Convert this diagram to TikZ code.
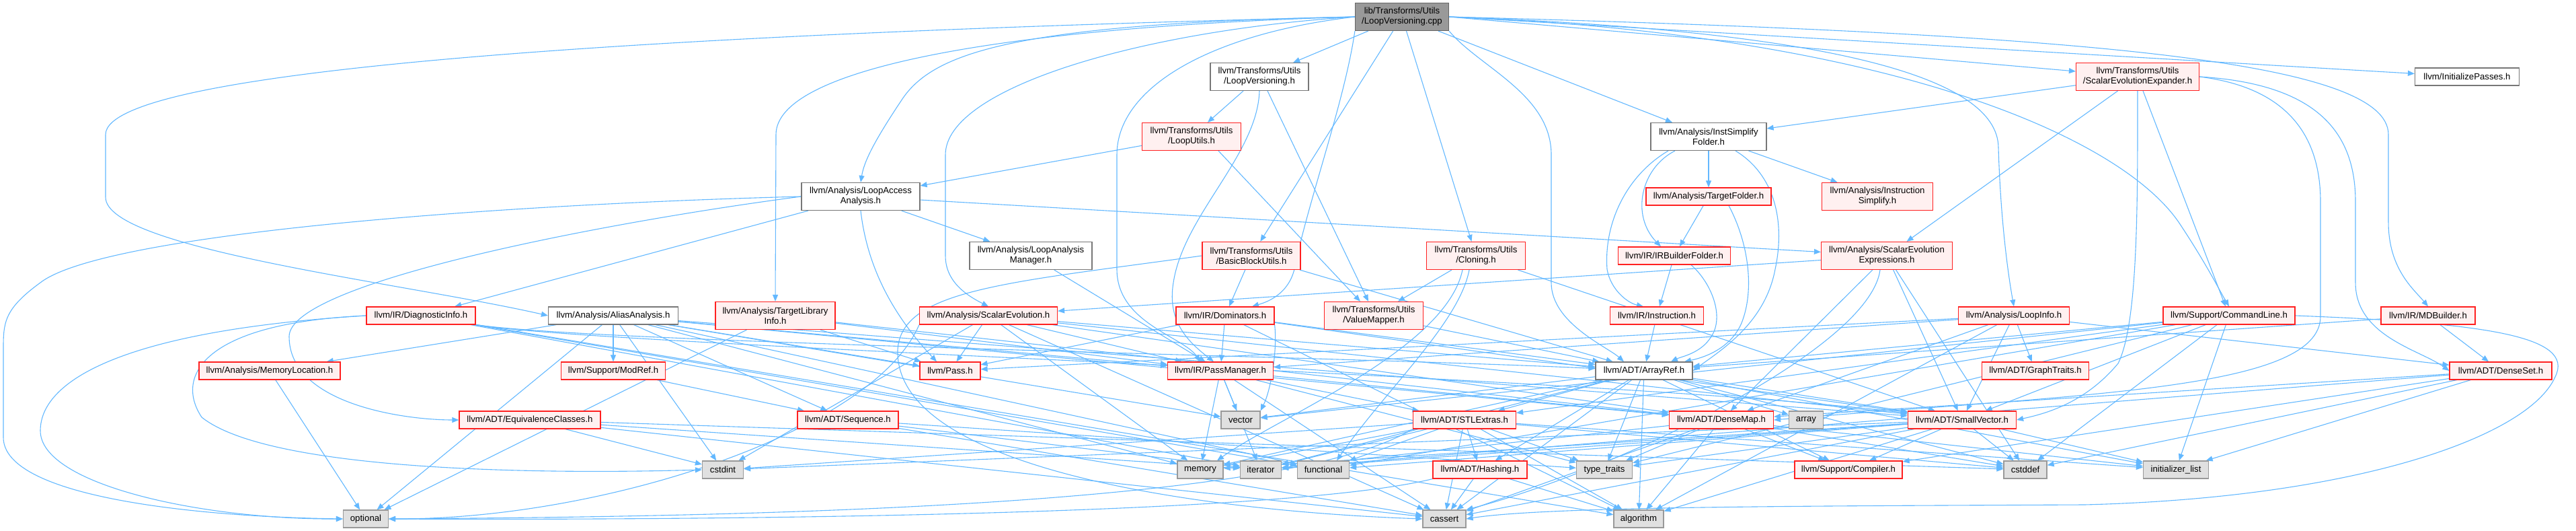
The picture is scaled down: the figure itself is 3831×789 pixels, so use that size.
\documentclass[tikz,border=0pt]{standalone}
\usepackage{fontspec}
\setmainfont{Liberation Sans}
\usetikzlibrary{arrows.meta}
\definecolor{edgec}{HTML}{63B8FF}
\definecolor{redb}{HTML}{FF2020}
\definecolor{redf}{HTML}{FFF0F0}
\definecolor{grayf}{HTML}{E0E0E0}
\definecolor{grayb}{HTML}{999999}
\definecolor{whiteb}{HTML}{777777}
\definecolor{mainf}{HTML}{999999}
\definecolor{mainb}{HTML}{666666}
\pgfdeclarelayer{bg}
\pgfsetlayers{bg,main}
\newcommand\nodefont{\fontsize{13.2}{15}\selectfont}
\tikzset{
  nb/.style={line width=1.2pt, inner xsep=4pt, inner ysep=0pt, align=center, font=\nodefont, minimum height=26pt},
  rbox/.style={nb, draw=redb, fill=redf},
  wbox/.style={nb, draw=whiteb, fill=white},
  gbox/.style={nb, draw=grayb, fill=grayf},
  mbox/.style={nb, draw=mainb, fill=mainf},
  ln/.style={draw=edgec, line width=1.1pt, -{Triangle[length=10pt,width=8pt]}},
}
\begin{document}
\begin{tikzpicture}[x=1pt,y=-1pt]
\useasboundingbox (0,0) rectangle (3831,789);
% row 0
\node[mbox, minimum width=139pt, minimum height=41pt] (main) at (2085,25) {lib/Transforms/Utils\\/LoopVersioning.cpp};
% row 1
\node[wbox, minimum width=146pt, minimum height=41pt] (lvh) at (1873,114) {llvm/Transforms/Utils\\/LoopVersioning.h};
\node[rbox, minimum width=183pt, minimum height=41pt] (seexp) at (3179,114) {llvm/Transforms/Utils\\/ScalarEvolutionExpander.h};
\node[wbox, minimum width=155pt] (initp) at (3669,114) {llvm/InitializePasses.h};
% row 2
\node[rbox, minimum width=147pt, minimum height=41pt] (lutils) at (1772,203) {llvm/Transforms/Utils\\/LoopUtils.h};
\node[wbox, minimum width=172pt, minimum height=41pt] (isf) at (2541,203) {llvm/Analysis/InstSimplify\\Folder.h};
% row 3
\node[wbox, minimum width=176pt, minimum height=41pt] (laa) at (1280,292) {llvm/Analysis/LoopAccess\\Analysis.h};
\node[rbox, minimum width=186pt] (tfold) at (2541,292) {llvm/Analysis/TargetFolder.h};
\node[rbox, minimum width=165pt, minimum height=41pt] (isimp) at (2792,292) {llvm/Analysis/Instruction\\Simplify.h};
% row 4
\node[wbox, minimum width=182pt, minimum height=41pt] (lam) at (1533,380) {llvm/Analysis/LoopAnalysis\\Manager.h};
\node[rbox, minimum width=146pt, minimum height=41pt] (bbu) at (1861,380) {llvm/Transforms/Utils\\/BasicBlockUtils.h};
\node[rbox, minimum width=147pt, minimum height=41pt] (clon) at (2195,380) {llvm/Transforms/Utils\\/Cloning.h};
\node[rbox, minimum width=167pt] (irbf) at (2490,380) {llvm/IR/IRBuilderFolder.h};
\node[rbox, minimum width=195pt, minimum height=41pt] (see) at (2806,380) {llvm/Analysis/ScalarEvolution\\Expressions.h};
% row 5
\node[rbox, minimum width=162pt] (diag) at (626,469) {llvm/IR/DiagnosticInfo.h};
\node[wbox, minimum width=193pt] (aa) at (912,469) {llvm/Analysis/AliasAnalysis.h};
\node[rbox, minimum width=178pt, minimum height=41pt] (tli) at (1153,469) {llvm/Analysis/TargetLibrary\\Info.h};
\node[rbox, minimum width=205pt] (se) at (1470,469) {llvm/Analysis/ScalarEvolution.h};
\node[rbox, minimum width=146pt] (dom) at (1822,469) {llvm/IR/Dominators.h};
\node[rbox, minimum width=147pt, minimum height=41pt] (vm) at (2043,469) {llvm/Transforms/Utils\\/ValueMapper.h};
\node[rbox, minimum width=139pt] (inst) at (2464,469) {llvm/IR/Instruction.h};
\node[rbox, minimum width=165pt] (li) at (2995,469) {llvm/Analysis/LoopInfo.h};
\node[rbox, minimum width=196pt] (cl) at (3315,469) {llvm/Support/CommandLine.h};
\node[rbox, minimum width=140pt] (mdb) at (3611,469) {llvm/IR/MDBuilder.h};
% row 6
\node[rbox, minimum width=210pt] (memloc) at (401,551) {llvm/Analysis/MemoryLocation.h};
\node[rbox, minimum width=155pt] (modref) at (912,551) {llvm/Support/ModRef.h};
\node[rbox, minimum width=90pt] (pass) at (1413,551) {llvm/Pass.h};
\node[rbox, minimum width=157pt] (pm) at (1815,551) {llvm/IR/PassManager.h};
\node[wbox, minimum width=144pt] (aref) at (2445,551) {llvm/ADT/ArrayRef.h};
\node[rbox, minimum width=159pt] (gt) at (3027,551) {llvm/ADT/GraphTraits.h};
\node[rbox, minimum width=152pt] (dset) at (3719,551) {llvm/ADT/DenseSet.h};
% row 7
\node[rbox, minimum width=210pt] (eqc) at (788,624) {llvm/ADT/EquivalenceClasses.h};
\node[rbox, minimum width=150pt] (seq) at (1261,624) {llvm/ADT/Sequence.h};
\node[gbox, minimum width=58pt] (vector) at (1845,624) {vector};
\node[rbox, minimum width=153pt] (stl) at (2178,624) {llvm/ADT/STLExtras.h};
\node[rbox, minimum width=155pt] (dmap) at (2560,624) {llvm/ADT/DenseMap.h};
\node[gbox, minimum width=51pt] (array) at (2686,624) {array};
\node[rbox, minimum width=161pt] (svec) at (2918,624) {llvm/ADT/SmallVector.h};
% row 8
\node[gbox, minimum width=61pt] (cstdint) at (1075,698) {cstdint};
\node[gbox, minimum width=68pt] (memory) at (1785,698) {memory};
\node[gbox, minimum width=61pt] (iterator) at (1875,698) {iterator};
\node[gbox, minimum width=77pt] (functional) at (1968,698) {functional};
\node[rbox, minimum width=140pt] (hash) at (2201,698) {llvm/ADT/Hashing.h};
\node[gbox, minimum width=83pt] (tt) at (2386,698) {type\_traits};
\node[rbox, minimum width=160pt] (compiler) at (2749,698) {llvm/Support/Compiler.h};
\node[gbox, minimum width=64pt] (cstddef) at (3012,698) {cstddef};
\node[gbox, minimum width=97pt] (initl) at (3236,698) {initializer\_list};
% row 9
\node[gbox, minimum width=67pt] (optional) at (544,771) {optional};
\node[gbox, minimum width=64pt] (cassert) at (2148,771) {cassert};
\node[gbox, minimum width=74pt] (algorithm) at (2437,771) {algorithm};

\begin{pgfonlayer}{bg}
% main
\draw[ln] (main) -- (lvh);
\draw[ln] (main) -- (clon);
\draw[ln] (main) -- (isf);
\draw[ln] (main) -- (bbu);
\draw[ln] (main.east) -- (seexp);
\draw[ln] (main.east) -- (initp);
\draw[ln] (main.east) .. controls (2700,45) and (2972,110) .. (2972,220) .. controls (2975,320) and (2985,400) .. (li.north);
\draw[ln] (main.east) .. controls (2800,50) and (3150,200) .. (3240,330) .. controls (3280,390) and (3300,430) .. (cl.north);
\draw[ln] (main.east) .. controls (3100,50) and (3552,90) .. (3552,200) -- (3552,330) .. controls (3552,400) and (3590,430) .. (mdb.north);
\draw[ln] (main.south east) .. controls (2200,100) and (2307,140) .. (2307,230) -- (2307,420) .. controls (2307,480) and (2390,515) .. ([xshift=-30pt]aref.north);
\draw[ln] (main.south west) .. controls (2000,150) and (1945,300) .. (1925,400) .. controls (1915,440) and (1880,450) .. ([xshift=40pt]dom.north);
\draw[ln] (main.west) .. controls (1800,50) and (1661,130) .. (1661,230) -- (1661,400) .. controls (1661,480) and (1760,500) .. ([xshift=-30pt]pm.north);
\draw[ln] (main.west) .. controls (1700,45) and (1406,130) .. (1406,230) -- (1406,380) .. controls (1406,420) and (1440,440) .. (se.north);
\draw[ln] (main.west) .. controls (1500,40) and (1154,100) .. (1154,200) -- (tli.north);
\draw[ln] (main.west) .. controls (1500,35) and (1385,80) .. (1340,150) .. controls (1300,210) and (1285,240) .. (laa.north);
\draw[ln] (main.west) .. controls (1000,50) and (157,100) .. (157,200) -- (157,293) .. controls (157,370) and (600,420) .. (aa.west);
% LoopVersioning.h
\draw[ln] (lvh) -- (lutils);
\draw[ln] (lvh.south) .. controls (1870,230) and (1760,320) .. (1745,420) .. controls (1735,480) and (1770,510) .. ([xshift=-10pt]pm.north);
\draw[ln] ([xshift=12pt]lvh.south) -- ([xshift=-8pt]vm.north);
% LoopUtils.h
\draw[ln] (lutils) -- (laa);
\draw[ln] ([xshift=40pt]lutils.south) -- ([xshift=-20pt]vm.north);
% LoopAccessAnalysis.h
\draw[ln] (laa) -- (diag);
\draw[ln] (laa) -- (lam);
\draw[ln] (laa) -- (see);
\draw[ln] (laa.south) .. controls (1290,400) and (1330,470) .. ([xshift=-20pt]pass.north);
\draw[ln] (laa.west) .. controls (900,330) and (430,420) .. (430,500) .. controls (430,600) and (600,624) .. (eqc.west);
\draw[ln] (laa.west) .. controls (700,305) and (150,350) .. (60,420) .. controls (5,460) and (5,480) .. (5,520) -- (5,650) .. controls (5,740) and (300,768) .. (optional.west);
% InstSimplifyFolder.h
\draw[ln] (isf) -- (tfold);
\draw[ln] (isf) -- (isimp);
\draw[ln] ([xshift=-50pt]isf.south) .. controls (2440,250) and (2425,320) .. ([xshift=-20pt]irbf.north);
\draw[ln] ([xshift=-60pt]isf.south) .. controls (2420,260) and (2385,330) .. (2390,400) .. controls (2395,430) and (2420,450) .. ([xshift=-20pt]inst.north);
\draw[ln] ([xshift=40pt]isf.south) .. controls (2640,260) and (2655,330) .. (2640,400) .. controls (2625,480) and (2560,520) .. (aref.east);
% TargetFolder / IRBuilderFolder / Instruction
\draw[ln] (tfold) -- (irbf);
\draw[ln] ([xshift=30pt]tfold.south) .. controls (2600,360) and (2610,430) .. (2590,480) .. controls (2575,515) and (2540,530) .. ([xshift=60pt]aref.north);
\draw[ln] (irbf) -- (inst);
\draw[ln] ([xshift=25pt]irbf.south) .. controls (2545,420) and (2565,470) .. (2545,500) .. controls (2530,525) and (2500,530) .. ([xshift=40pt]aref.north);
\draw[ln] (inst) -- (aref);
% BasicBlockUtils
\draw[ln] (bbu) -- (dom);
\draw[ln] (bbu) -- (aref);
\draw[ln] (bbu.west) .. controls (1500,420) and (1340,430) .. (1335,520) .. controls (1330,700) and (1800,760) .. (cassert.west);
% Cloning
\draw[ln] (clon) -- (vm);
\draw[ln] (clon) -- (svec);
\draw[ln] ([xshift=-10pt]clon.south) .. controls (2170,480) and (2060,580) .. ([xshift=20pt]functional.north);
\draw[ln] ([xshift=-20pt]clon.south) .. controls (2150,520) and (1900,620) .. ([xshift=25pt]memory.north);
% ValueMapper
\draw[ln] (vm) -- (aref);
% SCEV expressions
\draw[ln] (see) -- (dmap);
\draw[ln] (see) -- (svec);
\draw[ln] (see) -- (se);
\draw[ln] (see) -- (cstddef);
\draw[ln] ([xshift=-10pt]see.south) .. controls (2780,520) and (2400,700) .. (cassert.north east);
% SCEV expander
\draw[ln] (seexp) -- (isf);
\draw[ln] (seexp) -- (see);
\draw[ln] (seexp) -- (cl);
\draw[ln] (seexp.south) .. controls (3179,300) and (3180,480) .. (3150,540) .. controls (3100,600) and (3040,615) .. (svec.east);
\draw[ln] (seexp.east) .. controls (3400,130) and (3451,200) .. (3451,300) -- (3451,470) .. controls (3451,580) and (3100,585) .. (dmap.east);
\draw[ln] (seexp.east) .. controls (3450,125) and (3503,200) .. (3503,300) -- (3503,420) .. controls (3503,500) and (3600,520) .. (dset.west);
% AliasAnalysis
\draw[ln] (aa) -- (modref);
\draw[ln] (aa) -- (memloc);
\draw[ln] (aa) -- (pass);
\draw[ln] (aa) -- (pm);
\draw[ln] (aa) -- (dmap);
\draw[ln] (aa) -- (seq);
\draw[ln] (aa) -- (svec);
\draw[ln] (aa) -- (cstdint);
\draw[ln] (aa) -- (functional);
\draw[ln] (aa) -- (memory);
\draw[ln] (aa) -- (optional);
\draw[ln] (aa) -- (vector);
% TargetLibraryInfo
\draw[ln] (tli) -- (dmap);
\draw[ln] (tli) -- (pm);
\draw[ln] (tli) -- (pass);
\draw[ln] (tli) -- (optional);
% ScalarEvolution
\draw[ln] (se) -- (aref);
\draw[ln] (se) -- (dmap);
\draw[ln] (se) -- (svec);
\draw[ln] (se) -- (pm);
\draw[ln] (se) -- (pass);
\draw[ln] (se) -- (cassert);
\draw[ln] (se) -- (cstdint);
\draw[ln] (se) -- (memory);
\draw[ln] (se.south west) .. controls (1300,640) and (900,772) .. (optional.east);
% Dominators
\draw[ln] (dom) -- (pm);
\draw[ln] (dom) -- (pass);
\draw[ln] (dom) -- (svec);
\draw[ln] (dom) -- (algorithm);
\draw[ln] (dom) -- (aref);
\draw[ln] (dom.south east) .. controls (1900,520) and (1890,580) .. (vector.north east);
% PassManager
\draw[ln] (pm) -- (dmap);
\draw[ln] (pm) -- (stl);
\draw[ln] (pm) -- (cassert);
\draw[ln] (pm) -- (iterator);
\draw[ln] (pm) -- (memory);
\draw[ln] (pm) -- (tt);
\draw[ln] (pm) -- (vector);
% LoopAnalysisManager
\draw[ln] (lam) -- (pm);
% DiagnosticInfo
\draw[ln] (diag.south east) .. controls (900,510) and (2000,530) .. (aref);
\draw[ln] (diag.south east) .. controls (900,515) and (2400,560) .. (svec);
\draw[ln] (diag) -- (algorithm);
\draw[ln] (diag) -- (functional);
\draw[ln] (diag) -- (iterator);
\draw[ln] (diag.west) .. controls (300,480) and (260,560) .. (300,620) .. controls (400,700) and (800,705) .. (cstdint.west);
\draw[ln] (diag.west) .. controls (200,490) and (60,560) .. (60,640) .. controls (60,720) and (300,772) .. (optional.west);
% MemoryLocation, ModRef
\draw[ln] (memloc) -- (optional);
\draw[ln] (modref) -- (seq);
% EquivalenceClasses
\draw[ln] (eqc) -- (cassert);
\draw[ln] (eqc) -- (cstddef);
\draw[ln] (eqc) -- (cstdint);
\draw[ln] (eqc) -- (iterator);
% Sequence
\draw[ln] (seq) -- (cassert);
\draw[ln] (seq) -- (iterator);
\draw[ln] (seq) -- (tt);
% ArrayRef
\draw[ln] (aref) -- (hash);
\draw[ln] (aref) -- (stl);
\draw[ln] (aref) -- (svec);
\draw[ln] (aref) -- (compiler);
\draw[ln] (aref) -- (algorithm);
\draw[ln] (aref) -- (array);
\draw[ln] (aref) -- (cassert);
\draw[ln] (aref) -- (cstddef);
\draw[ln] (aref) -- (initl);
\draw[ln] (aref) -- (iterator);
\draw[ln] (aref) -- (memory);
\draw[ln] (aref) -- (tt);
\draw[ln] (aref) -- (vector);
% STLExtras
\draw[ln] (stl) -- (hash);
\draw[ln] (stl) -- (algorithm);
\draw[ln] (stl) -- (cassert);
\draw[ln] (stl) -- (cstddef);
\draw[ln] (stl) -- (cstdint);
\draw[ln] (stl) -- (functional);
\draw[ln] (stl) -- (initl);
\draw[ln] (stl) -- (iterator);
\draw[ln] (stl) -- (memory);
\draw[ln] (stl.south west) .. controls (1900,760) and (1000,768) .. (optional.east);
\draw[ln] (stl) -- (tt);
% Hashing
\draw[ln] (hash) -- (algorithm);
\draw[ln] (hash) -- (cassert);
\draw[ln] (hash.south west) .. controls (1900,768) and (1000,773) .. (optional.east);
% DenseMap
\draw[ln] (dmap) -- (compiler);
\draw[ln] (dmap) -- (algorithm);
\draw[ln] (dmap) -- (cassert);
\draw[ln] (dmap) -- (cstddef);
\draw[ln] (dmap) -- (initl);
\draw[ln] (dmap) -- (iterator);
\draw[ln] (dmap) -- (tt);
% SmallVector
\draw[ln] (svec) -- (compiler);
\draw[ln] (svec) -- (algorithm);
\draw[ln] (svec) -- (cassert);
\draw[ln] (svec) -- (cstddef);
\draw[ln] (svec) -- (cstdint);
\draw[ln] (svec) -- (functional);
\draw[ln] (svec) -- (initl);
\draw[ln] (svec) -- (iterator);
\draw[ln] (svec) -- (memory);
\draw[ln] (svec) -- (tt);
% LoopInfo
\draw[ln] (li) -- (dmap);
\draw[ln] (li) -- (dset);
\draw[ln] (li) -- (gt);
\draw[ln] (li) -- (svec);
\draw[ln] (li) -- (pm);
\draw[ln] (li) -- (pass);
\draw[ln] (li) -- (algorithm);
% CommandLine
\draw[ln] (cl) -- (aref);
\draw[ln] (cl) -- (stl);
\draw[ln] (cl) -- (svec);
\draw[ln] (cl) -- (cstddef);
\draw[ln] (cl) -- (functional);
\draw[ln] (cl) -- (initl);
\draw[ln] (cl) -- (tt);
\draw[ln] (cl) -- (vector);
\draw[ln] (cl.east) .. controls (3700,480) and (3830,500) .. (3800,560) .. controls (3760,650) and (3500,740) .. (3100,750) .. controls (2700,752) and (2300,752) .. (cassert.east);
% MDBuilder
\draw[ln] (mdb) -- (dset);
\draw[ln] (mdb) -- (aref);
% DenseSet
\draw[ln] (dset) -- (dmap);
\draw[ln] (dset) -- (compiler);
\draw[ln] (dset) -- (cstddef);
\draw[ln] (dset) -- (initl);
\draw[ln] (dset) -- (iterator);
\end{pgfonlayer}
\end{tikzpicture}
\end{document}
